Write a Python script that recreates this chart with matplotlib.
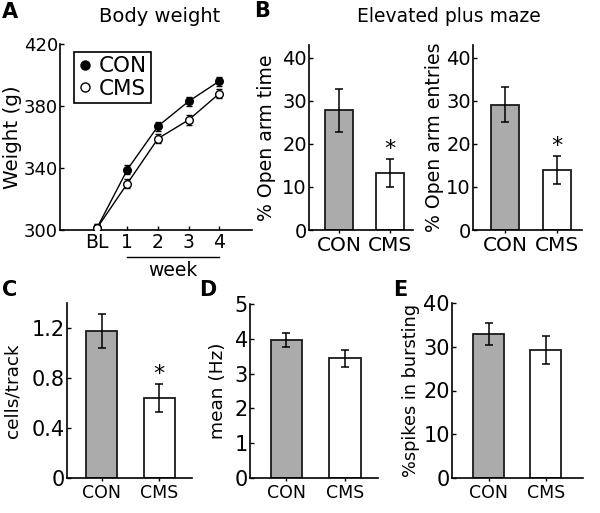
import matplotlib
matplotlib.use("Agg")
import matplotlib.pyplot as plt
from matplotlib.lines import Line2D
import numpy as np

plt.rcParams['font.family'] = ['DejaVu Sans']

# ---- data ----
weeks = ["BL", "1", "2", "3", "4"]
con_weight = [301, 339, 367, 383, 396]
con_weight_err = [3, 3, 3, 3, 3]
cms_weight = [301, 330, 359, 371, 388]
cms_weight_err = [3, 3, 3, 3, 3]

groups = ["CON", "CMS"]
open_time = [27.8, 13.2]
open_time_err = [5.0, 3.3]
open_entries = [29.1, 13.9]
open_entries_err = [4.1, 3.3]
cells_track = [1.175, 0.64]
cells_track_err = [0.135, 0.115]
mean_hz = [3.97, 3.44]
mean_hz_err = [0.20, 0.25]
spikes_burst = [33.0, 29.2]
spikes_burst_err = [2.5, 3.2]

W, H = 600, 513
fig = plt.figure(figsize=(W / 100, H / 100), dpi=100)


def ax_px(x0, x1, y0, y1):
    return fig.add_axes([x0 / W, (H - y1) / H, (x1 - x0) / W, (y1 - y0) / H])


def style(ax, ytick, xtick):
    for s in ['top', 'right']:
        ax.spines[s].set_visible(False)
    for s in ['left', 'bottom']:
        ax.spines[s].set_linewidth(1.2)
    ax.tick_params(axis='y', direction='in', length=3, width=1, labelsize=ytick, pad=1.5)
    ax.tick_params(axis='x', direction='out', length=2, width=1, labelsize=xtick, pad=2)


# ---- A ----
axA = ax_px(60, 252, 44, 230)
style(axA, 13, 13.5)
x = np.arange(len(weeks))
axA.errorbar(x, con_weight, yerr=con_weight_err, color='black', marker='o', ms=5.5,
             mfc='black', mec='black', lw=1, capsize=2.5, elinewidth=1, zorder=3)
axA.errorbar(x, cms_weight, yerr=cms_weight_err, color='black', marker='o', ms=5.5,
             mfc='white', mec='black', mew=1, lw=1, capsize=2.5, elinewidth=1, zorder=4)
axA.set_xlim(-1.2, 5.07)
axA.set_ylim(300, 420)
axA.set_yticks([300, 340, 380, 420])
axA.set_xticks(x)
axA.set_xticklabels(weeks)
axA.tick_params(axis='x', direction='in', length=3)
axA.set_ylabel('Weight (g)', fontsize=14.3)
axA.yaxis.set_label_coords(-0.20, 0.5)
handles = [Line2D([], [], ls='none', marker='o', ms=6.5, mfc='black', mec='black'),
           Line2D([], [], ls='none', marker='o', ms=6.5, mfc='white', mec='black', mew=1)]
leg = axA.legend(handles, ['CON', 'CMS'], loc='upper left', bbox_to_anchor=(0.073, 0.957),
                 frameon=True, fancybox=False, edgecolor='black', fontsize=15.5,
                 handlelength=0.6, handletextpad=0.35, borderpad=0.2, labelspacing=0.12,
                 borderaxespad=0, framealpha=1)
leg.get_frame().set_linewidth(1.2)
axA.plot([1, 4], [-0.145, -0.145], transform=axA.get_xaxis_transform(), color='black',
         lw=1, clip_on=False)
axA.text(2.5, -0.165, 'week', transform=axA.get_xaxis_transform(), ha='center', va='top',
         fontsize=13.5)
fig.text(160 / W, 1 - 17 / H, 'Body weight', ha='center', va='center', fontsize=14)
fig.text(2 / W, 1 - 12 / H, 'A', ha='left', va='center', fontsize=15, fontweight='bold')


def barplot(ax, vals, errs, xlim, ylim, yticks, ylabel, ytick, xtick, ylab, labx,
            star=False, ticklabels=None):
    style(ax, ytick, xtick)
    xb = np.arange(len(groups))
    ax.bar(xb, vals, width=0.54, color=['#ababab', 'white'], edgecolor='#1a1a1a', lw=1.3,
           zorder=2)
    ax.errorbar(xb, vals, yerr=errs, fmt='none', ecolor='black', elinewidth=1.1, capsize=2.8,
                capthick=1.1, zorder=3)
    ax.set_xlim(*xlim)
    ax.set_ylim(*ylim)
    ax.set_yticks(yticks)
    if ticklabels is not None:
        ax.set_yticklabels(ticklabels)
    ax.set_xticks(xb)
    ax.set_xticklabels(groups)
    ax.set_ylabel(ylabel, fontsize=ylab)
    ax.yaxis.set_label_coords(labx, 0.5)
    if star:
        ax.text(1, vals[1] + errs[1], '*', ha='center', va='bottom', fontsize=16)


# ---- B ----
axB1 = ax_px(309, 413, 45, 230)
barplot(axB1, open_time, open_time_err, (-0.59, 1.45), (0, 42.9), [0, 10, 20, 30, 40],
        '% Open arm time', 14, 14.5, 13.6, -0.32, star=True)
axB2 = ax_px(473, 582, 45, 230)
barplot(axB2, open_entries, open_entries_err, (-0.62, 1.48), (0, 42.9), [0, 10, 20, 30, 40],
        '% Open arm entries', 14, 14.5, 13.6, -0.27, star=True)
fig.text(449 / W, 1 - 17 / H, 'Elevated plus maze', ha='center', va='center', fontsize=13.5)
fig.text(254 / W, 1 - 11 / H, 'B', ha='left', va='center', fontsize=15, fontweight='bold')

# ---- C ----
axC = ax_px(67, 192, 303, 478)
barplot(axC, cells_track, cells_track_err, (-0.6, 1.57), (0, 1.40), [0, 0.4, 0.8, 1.2],
        'cells/track', 15, 12.5, 13.3, -0.36, star=True,
        ticklabels=['0', '0.4', '0.8', '1.2'])
fig.text(2 / W, 1 - 290 / H, 'C', ha='left', va='center', fontsize=15, fontweight='bold')

# ---- D ----
axD = ax_px(250, 378, 304, 478)
barplot(axD, mean_hz, mean_hz_err, (-0.62, 1.56), (0, 5), [0, 1, 2, 3, 4, 5], 'mean (Hz)',
        15, 12.5, 13.3, -0.18)
fig.text(199 / W, 1 - 290 / H, 'D', ha='left', va='center', fontsize=15, fontweight='bold')

# ---- E ----
axE = ax_px(452, 583, 303, 478)
barplot(axE, spikes_burst, spikes_burst_err, (-0.64, 1.65), (0, 40), [0, 10, 20, 30, 40],
        '%spikes in bursting', 15, 12.5, 12.8, -0.244)
fig.text(393 / W, 1 - 290 / H, 'E', ha='left', va='center', fontsize=15, fontweight='bold')

fig.savefig('out.png', dpi=100)
